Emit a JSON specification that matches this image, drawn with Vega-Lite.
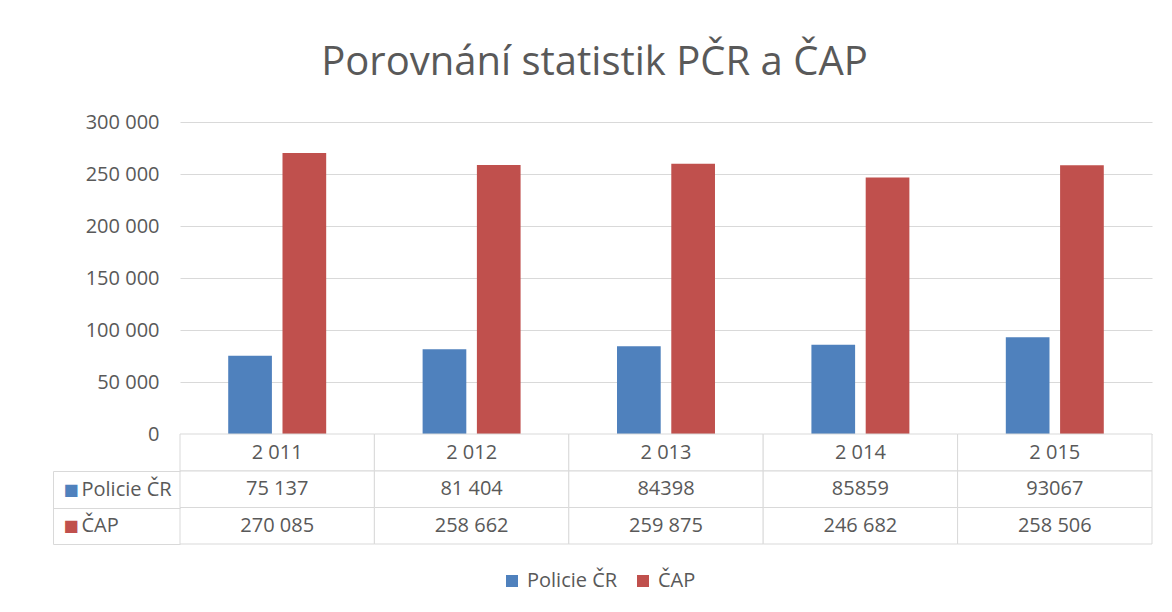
{
  "$schema": "https://vega.github.io/schema/vega-lite/v6.json",
  "padding": {"left": 52, "top": 43, "right": 20, "bottom": 10},
  "background": "white",
  "config": {
    "view": {"stroke": null},
    "font": "Open Sans",
    "locale": {"number": {"decimal": ",", "thousands": " ", "grouping": [3], "currency": ["", " Kč"]}}
  },
  "title": {
    "text": "Porovnání statistik PČR a ČAP",
    "font": "Open Sans",
    "fontSize": 40,
    "fontWeight": "normal",
    "color": "#595959",
    "anchor": "middle",
    "dx": -8,
    "offset": 29
  },
  "datasets": {
    "rows": [
      {"year": 2011, "series": "Policie ČR", "value": 75137, "label": "75 137"},
      {"year": 2012, "series": "Policie ČR", "value": 81404, "label": "81 404"},
      {"year": 2013, "series": "Policie ČR", "value": 84398, "label": "84398"},
      {"year": 2014, "series": "Policie ČR", "value": 85859, "label": "85859"},
      {"year": 2015, "series": "Policie ČR", "value": 93067, "label": "93067"},
      {"year": 2011, "series": "ČAP", "value": 270085, "label": "270 085"},
      {"year": 2012, "series": "ČAP", "value": 258662, "label": "258 662"},
      {"year": 2013, "series": "ČAP", "value": 259875, "label": "259 875"},
      {"year": 2014, "series": "ČAP", "value": 246682, "label": "246 682"},
      {"year": 2015, "series": "ČAP", "value": 258506, "label": "258 506"}
    ]
  },
  "data": {"name": "rows"},
  "spacing": 0,
  "bounds": "flush",
  "resolve": {"scale": {"x": "independent", "y": "independent"}},
  "vconcat": [
    {
      "width": 972,
      "height": 312,
      "mark": {"type": "bar"},
      "encoding": {
        "x": {"field": "year", "type": "nominal", "axis": null,
              "scale": {"paddingInner": 0.496, "paddingOuter": 0.248}},
        "xOffset": {"field": "series", "type": "nominal",
                    "sort": ["Policie ČR", "ČAP"],
                    "scale": {"domain": ["Policie ČR", "ČAP"], "paddingInner": 0.195, "paddingOuter": 0}},
        "y": {"field": "value", "type": "quantitative",
              "scale": {"domain": [0, 300000], "nice": false},
              "axis": {"title": null, "values": [0, 50000, 100000, 150000, 200000, 250000, 300000],
                       "format": ",.0f", "domain": false, "ticks": false, "labelPadding": 21,
                       "labelFontSize": 20, "labelColor": "#595959", "labelFont": "Open Sans",
                       "gridColor": "#d9d9d9", "gridWidth": 1}},
        "color": {"field": "series", "type": "nominal",
                  "sort": ["Policie ČR", "ČAP"],
                  "scale": {"domain": ["Policie ČR", "ČAP"], "range": ["#4f81bd", "#c0504d"]},
                  "legend": {"title": null, "orient": "none", "direction": "horizontal",
                             "legendX": 322, "legendY": 449,
                             "symbolType": "square", "symbolSize": 144, "symbolStrokeWidth": 0,
                             "labelFontSize": 20, "labelColor": "#595959", "labelFont": "Open Sans",
                             "labelOffset": 5, "columnPadding": 15}}
      }
    },
    {
      "width": 972,
      "height": 37,
      "transform": [{"filter": "datum.series === 'ČAP'"}],
      "layer": [
        {
          "mark": {"type": "rect", "fill": "white", "stroke": "#d9d9d9", "strokeWidth": 1},
          "encoding": {
            "x": {"field": "year", "type": "nominal", "axis": null,
                  "scale": {"paddingInner": 0, "paddingOuter": 0}}
          }
        },
        {
          "mark": {"type": "text", "fontSize": 20, "color": "#595959", "font": "Open Sans", "baseline": "middle"},
          "encoding": {
            "x": {"field": "year", "type": "nominal", "axis": null},
            "text": {"field": "year", "type": "quantitative", "format": ","}
          }
        }
      ]
    },
    {
      "width": 972,
      "height": 73,
      "resolve": {"scale": {"y": "independent"}, "axis": {"y": "independent"}},
      "layer": [
        {
          "mark": {"type": "rect", "fill": "white", "stroke": "#d9d9d9", "strokeWidth": 1},
          "encoding": {
            "x": {"field": "year", "type": "nominal", "axis": null,
                  "scale": {"paddingInner": 0, "paddingOuter": 0}},
            "y": {"field": "series", "type": "nominal",
                  "scale": {"domain": ["Policie ČR", "ČAP"], "paddingInner": 0, "paddingOuter": 0},
                  "axis": {"orient": "left", "title": null, "domain": false, "grid": false,
                           "ticks": true, "tickBand": "extent", "tickSize": 127, "tickColor": "#d9d9d9",
                           "labelAlign": "left", "labelPadding": -28, "labelFontSize": 20,
                           "labelColor": "#595959", "labelFont": "Open Sans"}}
          }
        },
        {
          "mark": {"type": "text", "fontSize": 20, "color": "#595959", "font": "Open Sans", "baseline": "middle"},
          "encoding": {
            "x": {"field": "year", "type": "nominal", "axis": null},
            "y": {"field": "series", "type": "nominal",
                  "scale": {"domain": ["Policie ČR", "ČAP"], "paddingInner": 0, "paddingOuter": 0},
                  "axis": {"orient": "left", "offset": 127, "title": null, "grid": false,
                           "domain": true, "domainColor": "#d9d9d9", "ticks": false,
                           "labelExpr": "'■'", "labelAlign": "left", "labelPadding": -10,
                           "labelFontSize": 16, "labelFont": "DejaVu Sans",
                           "labelColor": {"condition": {"test": "datum.value === 'ČAP'", "value": "#c0504d"}, "value": "#4f81bd"}}},
            "text": {"field": "label", "type": "nominal"}
          }
        }
      ]
    }
  ]
}
